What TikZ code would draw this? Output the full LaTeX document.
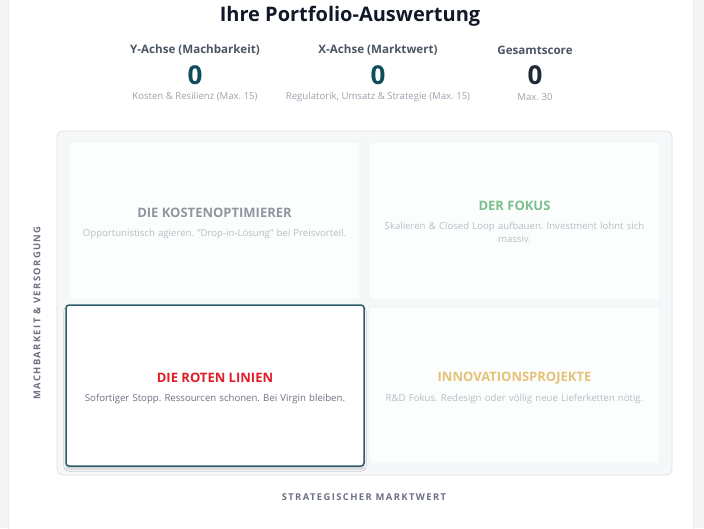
\documentclass[tikz,border=0pt]{standalone}
\usepackage{fontspec}
\setmainfont{Open Sans}
\usetikzlibrary{shadows.blur}
\frenchspacing
\definecolor{pagebg}{HTML}{F3F4F6}
\definecolor{gridbg}{HTML}{F6F7F9}
\definecolor{gridline}{HTML}{DDE1E6}
\definecolor{quadbg}{HTML}{FCFDFD}
\definecolor{quadline}{HTML}{F0F2F4}
\definecolor{titlec}{HTML}{111827}
\definecolor{labelc}{HTML}{4B5563}
\definecolor{tealc}{HTML}{0F4C5C}
\definecolor{navyc}{HTML}{1F2937}
\definecolor{subc}{HTML}{9CA3AF}
\definecolor{greyhead}{HTML}{9096A0}
\definecolor{greytext}{HTML}{B8BDC5}
\definecolor{greenc}{HTML}{7CBF8F}
\definecolor{redc}{HTML}{E11D2A}
\definecolor{goldc}{HTML}{E5C277}
\definecolor{activeline}{HTML}{2E5E6C}
\definecolor{activetext}{HTML}{6B7280}
\definecolor{axisc}{HTML}{6B7280}
\tikzset{
  quad/.style={draw=quadline, fill=quadbg, rounded corners=3pt, line width=0.6pt},
  activequad/.style={draw=activeline, fill=white, rounded corners=3pt, line width=1.5pt,
    blur shadow={shadow blur steps=8, shadow xshift=0pt, shadow yshift=-3pt, shadow opacity=18}},
  qhead/.style={font=\fontsize{13}{15}\selectfont\bfseries, anchor=center},
  qtext/.style={font=\fontsize{9.6}{13}\selectfont, align=center, text width=290pt, anchor=north},
  stathead/.style={font=\fontsize{11.6}{14}\selectfont\bfseries, text=labelc},
  statnum/.style={font=\fontsize{26}{28}\selectfont\bfseries},
  statsub/.style={font=\fontsize{9.6}{12}\selectfont, text=subc},
  axislab/.style={font=\fontsize{9.4}{11}\selectfont\bfseries\addfontfeature{LetterSpace=15}, text=axisc}
}
\begin{document}
\begin{tikzpicture}[x=1pt,y=-1pt]
\useasboundingbox (0,0) rectangle (704,528);
\fill[pagebg] (0,0) rectangle (704,528);
\fill[white] (8,-5) rectangle (693,540);
\draw[gridline!60, line width=0.5pt] (8,-5) -- (8,540) (693,-5) -- (693,540);

\node[font=\fontsize{20}{24}\selectfont\bfseries, text=titlec] (title) at (350,16) {Ihre Portfolio-Auswertung};

\node[stathead] (yhead) at (195,50) {Y-Achse (Machbarkeit)};
\node[statnum, text=tealc] (ynum) at (195,75) {0};
\node[statsub] (ysub) at (195,97) {Kosten \& Resilienz (Max. 15)};

\node[stathead] (xhead) at (378,50) {X-Achse (Marktwert)};
\node[statnum, text=tealc] (xnum) at (378,75) {0};
\node[statsub] (xsub) at (378,97) {Regulatorik, Umsatz \& Strategie (Max. 15)};

\node[stathead] (ghead) at (535,50) {Gesamtscore};
\node[statnum, text=navyc] (gnum) at (535,75) {0};
\node[statsub] (gsub) at (535,97) {Max. 30};

\draw[draw=gridline, fill=gridbg, rounded corners=6pt, line width=0.8pt] (57,131) rectangle (672,475);

\draw[quad] (69,142) rectangle (360,300);
\draw[quad] (369,142) rectangle (660,300);
\draw[quad] (369,307) rectangle (660,464);
\draw[activequad] (66,305) rectangle (364,466);

\node[qhead, text=greyhead] (kh) at (214.5,213) {DIE KOSTENOPTIMIERER};
\node[qtext, text=greytext] (kt) at (214.5,226) {Opportunistisch agieren. "Drop-in-Lösung" bei Preisvorteil.};

\node[qhead, text=greenc] (fh) at (514.5,206) {DER FOKUS};
\node[qtext, text=greytext] (ft) at (514.5,219) {Skalieren \& Closed Loop aufbauen. Investment lohnt sich\\massiv.};

\node[qhead, text=redc] (rh) at (215,378) {DIE ROTEN LINIEN};
\node[qtext, text=activetext] (rt) at (215,391) {Sofortiger Stopp. Ressourcen schonen. Bei Virgin bleiben.};

\node[qhead, text=goldc] (ih) at (514.5,378) {INNOVATIONSPROJEKTE};
\node[qtext, text=greytext] (it) at (514.5,391) {R\&D Fokus. Redesign oder völlig neue Lieferketten nötig.};

\node[axislab, rotate=90] (ylab) at (37,313) {MACHBARKEIT \& VERSORGUNG};
\node[axislab] (xlab) at (364,497) {STRATEGISCHER MARKTWERT};
\end{tikzpicture}
\end{document}
